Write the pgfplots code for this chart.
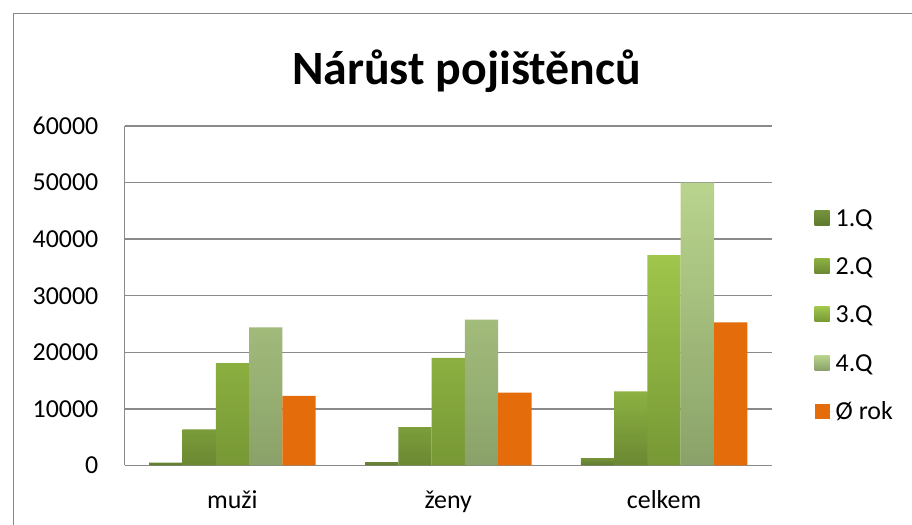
\documentclass[border=0pt]{standalone}
\usepackage{pgfplots}
\pgfplotsset{compat=1.18}
\usepackage{fontspec}
\setmainfont{Carlito}
\definecolor{frame}{HTML}{868686}
\definecolor{gridc}{HTML}{8A8A8A}
\definecolor{qat}{HTML}{76933B}
\definecolor{qab}{HTML}{5E7A2E}
\definecolor{qbt}{HTML}{8DB142}
\definecolor{qbb}{HTML}{6A8832}
\definecolor{qct}{HTML}{A0C64C}
\definecolor{qcb}{HTML}{779835}
\definecolor{qdt}{HTML}{B9D48D}
\definecolor{qdb}{HTML}{8AA269}
\definecolor{avg}{HTML}{E46C0A}
\begin{document}
\begin{tikzpicture}[x=1bp,y=1bp]
\useasboundingbox (0,0) rectangle (912,525);
\clip (0,0) rectangle (912,525);
\fill[white] (0,0) rectangle (912,525);
\draw[color=frame, line width=1.5bp] (13.5,0) -- (13.5,511.5) -- (912,511.5);
\node[font=\fontsize{48}{56}\selectfont\bfseries, anchor=base, inner sep=0pt] at (466.5,440) {Nárůst pojištěnců};
\begin{axis}[
  at={(124.5bp,59.5bp)}, anchor=south west,
  scale only axis, width=647.5bp, height=339.5bp,
  xmin=-0.5, xmax=2.5, ymin=0, ymax=60000,
  ytick={0,10000,20000,30000,40000,50000,60000},
  xtick={0,1,2}, xticklabels={muži,ženy,celkem},
  axis lines*=left,
  axis line style={color=gridc, line width=1.5bp},
  ymajorgrids, grid style={color=gridc, line width=1.5bp},
  major tick length=0pt,
  scaled y ticks=false,
  /pgf/number format/assume math mode=true,
  /pgf/number format/1000 sep={},
  yticklabel style={font=\fontsize{26}{30}\selectfont, anchor=east, inner sep=0pt, xshift=-26bp},
  xticklabel style={font=\fontsize{26}{30}\selectfont, anchor=base, inner sep=0pt, yshift=-43bp},
  ybar=0pt, bar width=33.3bp,
  legend cell align=left,
  legend style={at={(1.066,0.758)}, anchor=north west, draw=none, fill=none,
    inner sep=0pt, outer sep=0pt, row sep=29bp,
    font=\fontsize{26}{30}\selectfont,
    nodes={inner sep=0pt, text height=18bp, text depth=1.3bp}},
  legend image code/.code={\path[#1] (0bp,-7.5bp) rectangle (15bp,7.5bp); \path (0,0) -- (21bp,0);},
]
\addplot[draw=none, top color=qat, bottom color=qab] coordinates {(0,500) (1,600) (2,1300)};
\addplot[draw=none, top color=qbt, bottom color=qbb] coordinates {(0,6400) (1,6800) (2,13100)};
\addplot[draw=none, top color=qct, bottom color=qcb] coordinates {(0,18100) (1,19000) (2,37200)};
\addplot[draw=none, top color=qdt, bottom color=qdb] coordinates {(0,24400) (1,25800) (2,50000)};
\addplot[draw=none, fill=avg] coordinates {(0,12300) (1,12900) (2,25300)};
\legend{1.Q,2.Q,3.Q,4.Q,Ø rok}
\end{axis}
\end{tikzpicture}
\end{document}
